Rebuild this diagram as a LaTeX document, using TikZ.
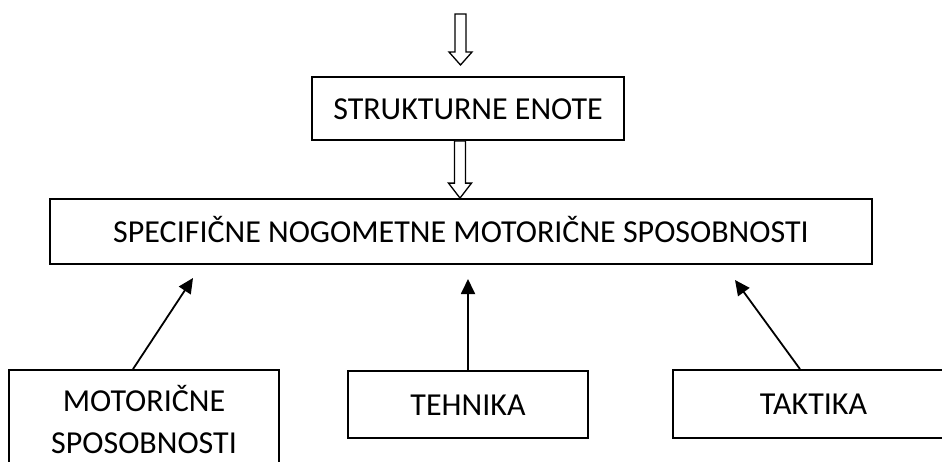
\documentclass[tikz,border=0pt]{standalone}
\usepackage{fontspec}
\setmainfont{Carlito}
\usetikzlibrary{arrows.meta,calc}
\tikzset{
  box/.style={draw=black, line width=1.8pt, inner sep=0pt, text height=21pt, text depth=0pt,
    font=\fontsize{32}{42}\selectfont},
  solidarrow/.style={line width=1.8pt, -{Triangle[length=15pt,width=14pt]}},
  hollowarrow/.style={draw=black, line width=1.3pt, fill=white, line join=miter}
}
\begin{document}
\begin{tikzpicture}[x=1pt,y=-1pt]
\useasboundingbox (0,0) rectangle (942,461);
\node[box, minimum width=312pt, minimum height=63pt] (strukt) at (468,108.5) {STRUKTURNE ENOTE};
\node[box, minimum width=822pt, minimum height=65pt] (spec) at (461,231.5) {SPECIFIČNE NOGOMETNE MOTORIČNE SPOSOBNOSTI};
\node[box, minimum width=270pt, minimum height=103pt, align=center, text height=63pt] (mot) at (144,421.5) {MOTORIČNE\\[0pt]SPOSOBNOSTI};
\node[box, minimum width=240pt, minimum height=67pt] (teh) at (468,404.5) {TEHNIKA};
\node[box, minimum width=281pt, minimum height=68pt] (tak) at (813.5,404) {TAKTIKA};
% free ends
\coordinate (in) at (460.5,14);
\coordinate (toptip) at (460.5,65);
\coordinate (mottip) at (193,278);
\coordinate (tehtip) at (468,279);
\coordinate (taktip) at (735,280);
% hollow arrows
\draw[hollowarrow] let \p1=(in), \p2=(toptip) in
  (\x2-5.5pt,\y1) -- (\x2-5.5pt,\y2+13pt) -- (\x2-11.5pt,\y2+13pt) -- (\x2,\y2)
  -- (\x2+11.5pt,\y2+13pt) -- (\x2+5.5pt,\y2+13pt) -- (\x2+5.5pt,\y1) -- cycle;
\draw[hollowarrow] let \p1=([xshift=-8pt]strukt.south), \p2=([xshift=-1pt]spec.north) in
  (\x2-5.5pt,\y1) -- (\x2-5.5pt,\y2+15pt) -- (\x2-11.5pt,\y2+15pt) -- (\x2,\y2)
  -- (\x2+11.5pt,\y2+15pt) -- (\x2+5.5pt,\y2+15pt) -- (\x2+5.5pt,\y1) -- cycle;
% solid arrows
\draw[solidarrow] ([xshift=-11pt]mot.north) -- (mottip);
\draw[solidarrow] (teh.north) -- (tehtip);
\draw[solidarrow] ([xshift=-13.5pt]tak.north) -- (taktip);
\end{tikzpicture}
\end{document}
